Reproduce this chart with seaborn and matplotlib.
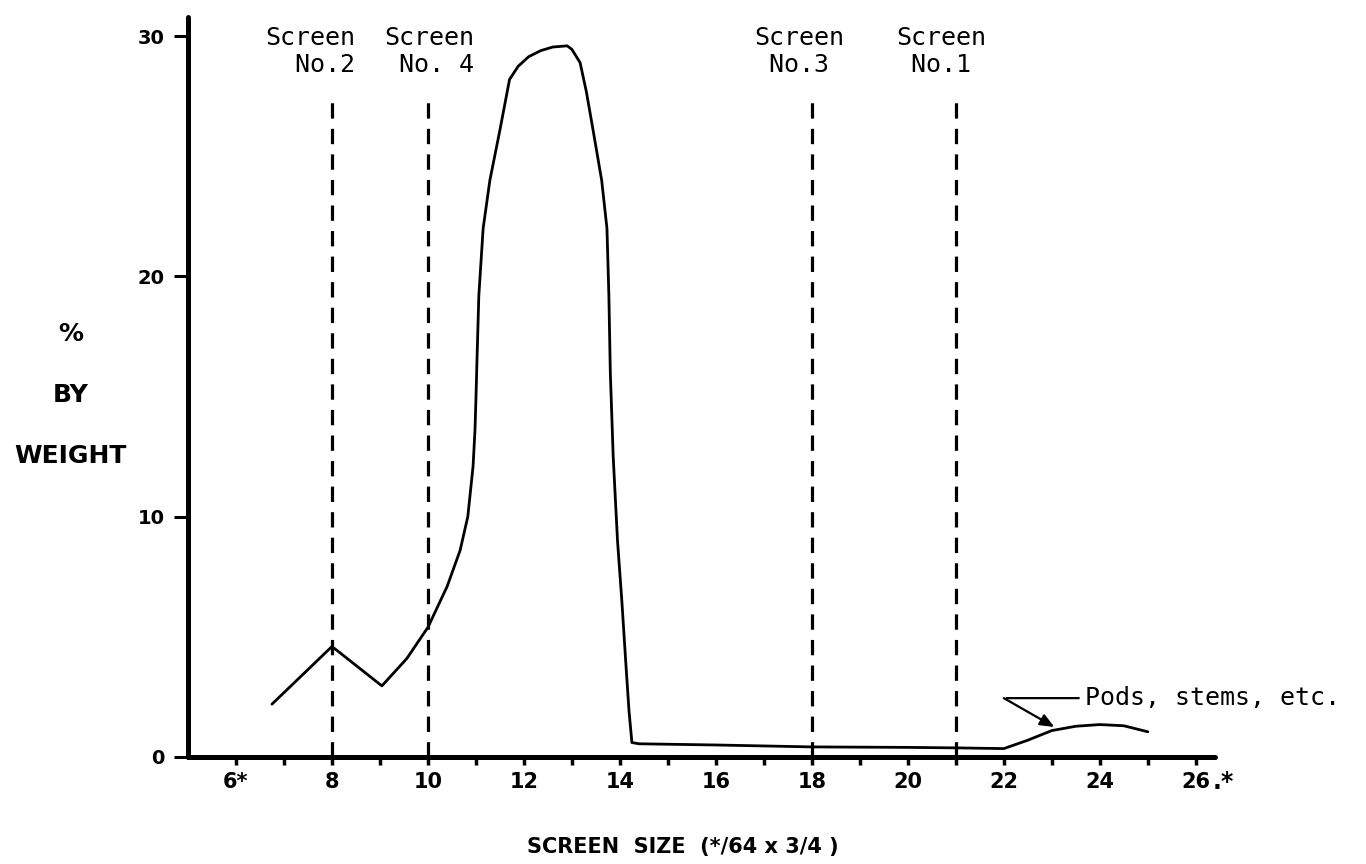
import numpy as np
import pandas as pd
import seaborn as sns
import matplotlib.pyplot as plt

# === Data ===
size = [6.75, 8.0, 9.04, 9.56, 10.0, 10.4, 10.67, 10.83, 10.94, 10.98, 11.0, 11.02,
        11.06, 11.15, 11.29, 11.5, 11.7, 11.88, 12.1, 12.35, 12.6, 12.9, 13.0, 13.17,
        13.3, 13.44, 13.62, 13.73, 13.77, 13.80, 13.86, 13.95, 14.04, 14.12, 14.19,
        14.25, 14.4, 16.0, 18.0, 20.0, 21.0, 22.0, 22.5, 23.0, 23.5, 24.0, 24.5, 25.0]
pct_weight = [2.2, 4.6, 2.96, 4.1, 5.4, 7.1, 8.6, 10.0, 12.1, 13.6, 14.9, 16.4,
              19.2, 22.0, 24.0, 26.1, 28.2, 28.75, 29.15, 29.4, 29.55, 29.6, 29.45, 28.9,
              27.7, 26.1, 24.0, 22.0, 19.2, 16.0, 12.5, 9.0, 6.5, 4.0, 1.9,
              0.6, 0.55, 0.5, 0.42, 0.4, 0.38, 0.35, 0.7, 1.1, 1.28, 1.35, 1.3, 1.05]

screen_pos = [8, 10, 18, 21]
screen_label_x = [7.55, 10.02, 17.73, 20.7]
screen_labels = ["Screen\n  No.2", "Screen\n No. 4", "Screen\n No.3 ", "Screen\n No.1 "]
screen_top = 27.6

x_ticks = [6, 8, 10, 12, 14, 16, 18, 20, 22, 24, 26]
x_ticklabels = ["6*", "8", "10", "12", "14", "16", "18", "20", "22", "24", "26"]
y_ticks = [0, 10, 20, 30]

note_text = "Pods, stems, etc."
note_xy = (23.7, 2.45)      # text anchor
note_elbow = (22.0, 2.45)   # where the leader line bends
note_target = (23.05, 1.25) # arrow tip on the curve

MONO = "DejaVu Sans Mono"

sns.set_theme(style="white", rc={"text.color": "black", "axes.labelcolor": "black",
                                 "xtick.color": "black", "ytick.color": "black"})
plt.rcParams["font.family"] = ["DejaVu Sans"]

fig = plt.figure(figsize=(13.66, 8.64), dpi=100)
ax = fig.add_axes([188 / 1366, 107 / 864, 1027 / 1366, 740 / 864])

df = pd.DataFrame({"size": size, "pct": pct_weight})
sns.lineplot(data=df, x="size", y="pct", sort=False, color="black", lw=2.0, ax=ax)

# screen positions
ax.vlines(screen_pos, 0, screen_top, colors="black", lw=2.3,
          linestyles=(0, (4.8, 3.2)))
for xp, lab in zip(screen_label_x, screen_labels):
    ax.text(xp, 28.3, lab, family=MONO, fontsize=18, ha="center",
            va="bottom", multialignment="left", linespacing=1.15, clip_on=False)

# annotation for pods
ax.annotate("", xy=note_elbow, xytext=(note_xy[0] - 0.08, note_xy[1]),
            arrowprops=dict(arrowstyle="-", color="black", lw=1.6))
ax.annotate("", xy=note_target, xytext=note_elbow,
            arrowprops=dict(arrowstyle="-|>,head_length=0.7,head_width=0.3",
                            color="black", lw=1.6, shrinkA=0, shrinkB=0))
ax.text(note_xy[0], note_xy[1], note_text, family=MONO, fontsize=18,
        ha="left", va="center", clip_on=False)

# axes styling
ax.set_xlim(5, 26.4)
ax.set_ylim(0, 30.8)
for side in ["top", "right"]:
    ax.spines[side].set_visible(False)
for side in ["left", "bottom"]:
    ax.spines[side].set_linewidth(3.6)
    ax.spines[side].set_color("black")
    ax.spines[side].set_capstyle("round")

ax.set_xticks(x_ticks)
ax.set_xticklabels(x_ticklabels, fontsize=15, fontweight="bold")
ax.set_xticks(range(7, 26, 2), minor=True)
ax.set_yticks(y_ticks)
ax.set_yticklabels([str(v) for v in y_ticks], fontsize=14, fontweight="bold")
ax.tick_params(axis="x", which="both", direction="out", length=6, width=2.5,
               color="black", pad=5, bottom=True)
ax.tick_params(axis="y", direction="out", length=10, width=2.2, color="black",
               pad=7, left=True)
ax.text(26.36, -1.05, ".*", fontsize=17, fontweight="bold", ha="left", va="center",
        clip_on=False)

ax.set_xlabel("SCREEN  SIZE  (*/64 x 3/4 )", fontsize=15, fontweight="bold")
ax.xaxis.set_label_coords(0.482, -0.108)
ax.set_ylabel("%\n\nBY\n\nWEIGHT", fontsize=18, fontweight="bold", rotation=0,
              ha="center", va="center", linespacing=1.34)
ax.yaxis.set_label_coords(-0.114, 0.489)

ax.grid(False)
fig.savefig("out.png", dpi=100, facecolor="white")
